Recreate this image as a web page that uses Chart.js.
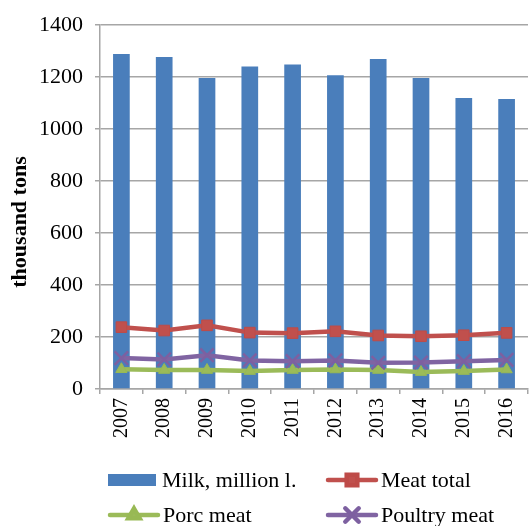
<!DOCTYPE html>
<html>
<head>
<meta charset="utf-8">
<script src="https://cdn.jsdelivr.net/npm/chart.js@4/dist/chart.umd.min.js"></script>
<style>
  html, body { margin: 0; padding: 0; background: #fff; overflow: hidden; }
  canvas { display: block; }
</style>
</head>
<body>
<canvas id="chart" width="540" height="526"></canvas>
<script>
const years = ['2007', '2008', '2009', '2010', '2011', '2012', '2013', '2014', '2015', '2016'];
const milk = [1289, 1278, 1197, 1241, 1249, 1207, 1270, 1197, 1120, 1116];
const meatTotal = [238, 225, 245, 217, 215, 222, 206, 203, 207, 216];
const porcMeat = [76, 73, 73, 69, 73, 75, 73, 65, 69, 75];
const poultryMeat = [119, 114, 130, 110, 107, 110, 101, 102, 107, 112];

const serif = '"Liberation Serif", "Times New Roman", serif';
const gridGrey = '#a6a6a6';

// legend laid out as a 2x2 grid, line symbols with their marker in the middle
const gridLegend = {
  id: 'gridLegend',
  afterDraw(chart) {
    const ctx = chart.ctx;
    const cols = [108, 326];
    const rows = [480, 515];
    ctx.save();
    chart.data.datasets.forEach((ds, i) => {
      const x = cols[i % 2];
      const y = rows[Math.floor(i / 2)];
      let textX;
      if (ds.type === 'bar') {
        ctx.fillStyle = ds.backgroundColor;
        ctx.fillRect(x, y - 6, 48, 12);
        textX = x + 54;
      } else {
        ctx.strokeStyle = ds.borderColor;
        ctx.lineWidth = 4.5;
        ctx.lineCap = 'round';
        ctx.beginPath();
        ctx.moveTo(x + 2, y);
        ctx.lineTo(x + 50, y);
        ctx.stroke();
        ctx.fillStyle = ds.pointBackgroundColor;
        ctx.strokeStyle = ds.pointBorderColor;
        Chart.helpers.drawPoint(ctx, {
          pointStyle: ds.pointStyle,
          radius: ds.pointRadius,
          rotation: 0,
          borderWidth: ds.pointBorderWidth
        }, x + 26, y);
        textX = x + 55;
      }
      ctx.fillStyle = '#000';
      ctx.font = '22px ' + serif;
      ctx.textBaseline = 'middle';
      ctx.textAlign = 'left';
      ctx.fillText(ds.label, textX, y + 1);
    });
    ctx.restore();
  }
};

// y axis title, sitting a little below the middle of the axis
const yTitle = {
  id: 'yTitle',
  afterDraw(chart) {
    const ctx = chart.ctx;
    ctx.save();
    ctx.translate(20, 222);
    ctx.rotate(-Math.PI / 2);
    ctx.fillStyle = '#000';
    ctx.font = 'bold 22px ' + serif;
    ctx.textAlign = 'center';
    ctx.textBaseline = 'middle';
    ctx.fillText('thousand tons', 0, 0);
    ctx.restore();
  }
};

new Chart(document.getElementById('chart').getContext('2d'), {
  data: {
    labels: years,
    datasets: [
      {
        type: 'bar',
        label: 'Milk, million l.',
        data: milk,
        backgroundColor: '#4a7ebb',
        barPercentage: 0.39,
        categoryPercentage: 1,
        order: 5
      },
      {
        type: 'line',
        label: 'Meat total',
        data: meatTotal,
        borderColor: '#c0504d',
        borderWidth: 4.5,
        pointStyle: 'rect',
        pointRadius: 7.5,
        pointBackgroundColor: '#c0504d',
        pointBorderColor: '#be4b48',
        pointBorderWidth: 1,
        tension: 0,
        order: 1
      },
      {
        type: 'line',
        label: 'Porc meat',
        data: porcMeat,
        borderColor: '#9bbb59',
        borderWidth: 4.5,
        pointStyle: 'triangle',
        pointRadius: 6.5,
        pointBackgroundColor: '#9bbb59',
        pointBorderColor: '#98b954',
        pointBorderWidth: 1,
        tension: 0,
        order: 3
      },
      {
        type: 'line',
        label: 'Poultry meat',
        data: poultryMeat,
        borderColor: '#8064a2',
        borderWidth: 4.5,
        pointStyle: 'crossRot',
        pointRadius: 9.5,
        pointBackgroundColor: '#8064a2',
        pointBorderColor: '#7d60a0',
        pointBorderWidth: 2.5,
        tension: 0,
        order: 2
      }
    ]
  },
  options: {
    responsive: false,
    animation: false,
    layout: { padding: { left: 0, right: 7, top: 23, bottom: 77 } },
    plugins: {
      legend: { display: false },
      tooltip: { enabled: false }
    },
    scales: {
      x: {
        offset: true,
        grid: {
          offset: true,
          drawOnChartArea: false,
          color: gridGrey,
          lineWidth: 1.5,
          tickLength: 5
        },
        border: { color: gridGrey, width: 1.5 },
        ticks: {
          color: '#000',
          font: { family: serif, size: 20 },
          minRotation: 90,
          maxRotation: 90,
          padding: 4
        },
        afterFit(scale) { scale.height = 60; }
      },
      y: {
        min: 0,
        max: 1400,
        ticks: {
          stepSize: 200,
          color: '#000',
          font: { family: serif, size: 22 },
          padding: 12,
          callback: (v) => String(v)
        },
        grid: { color: gridGrey, lineWidth: 1.5, tickLength: 5 },
        border: { color: gridGrey, width: 1.5 },
        afterFit(scale) { scale.width = 100; }
      }
    }
  },
  plugins: [gridLegend, yTitle]
});
</script>
</body>
</html>
